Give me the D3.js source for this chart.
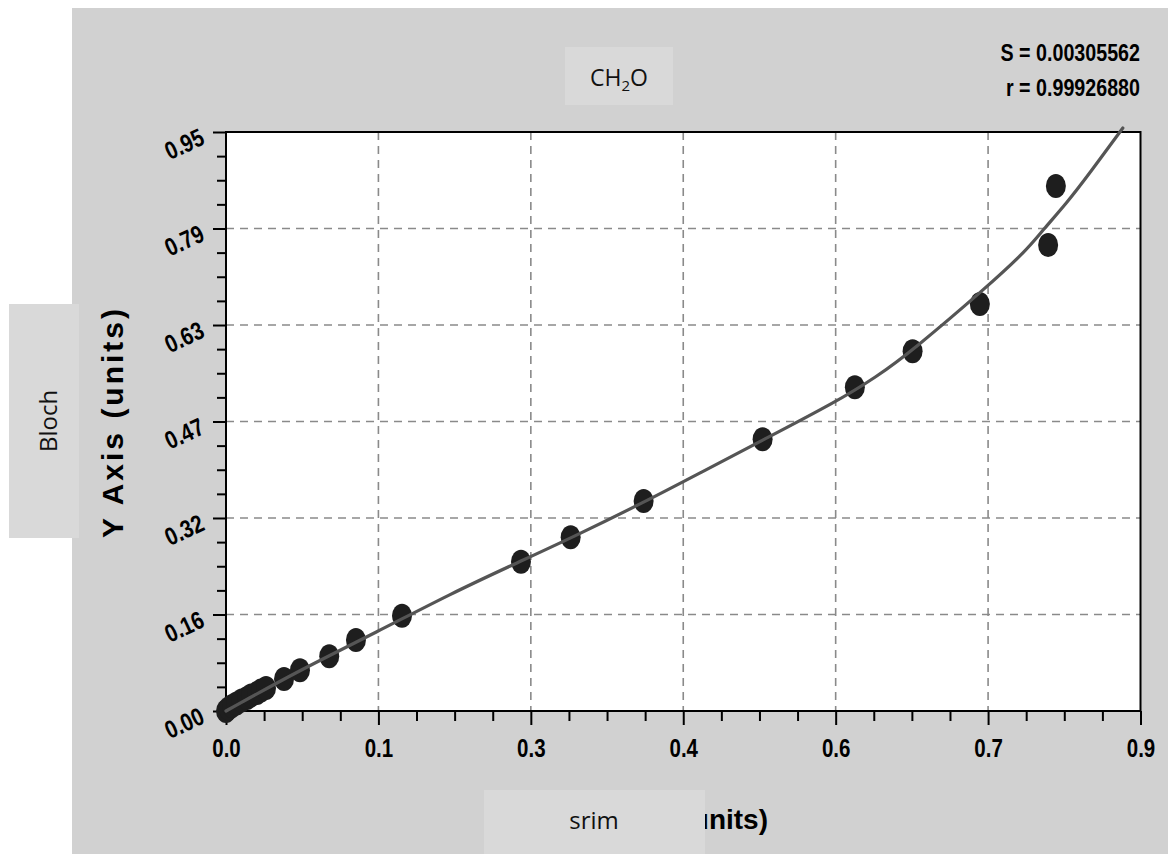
<!DOCTYPE html>
<html>
<head>
<meta charset="utf-8">
<script src="https://cdn.jsdelivr.net/npm/d3@7"></script>
<style>
  html, body { margin: 0; padding: 0; background: #fff; }
  .narrow { font-family: "Liberation Sans", Arial, sans-serif; font-weight: bold; }
</style>
</head>
<body>
<div id="chart"></div>
<script>
// ---- data ----
const xTicks = [0, 0.15, 0.3, 0.45, 0.6, 0.75, 0.9];
const xTickLabels = ["0.0", "0.1", "0.3", "0.4", "0.6", "0.7", "0.9"];
const yTicks = [0, 0.1583, 0.3167, 0.475, 0.6333, 0.7917, 0.95];
const yTickLabels = ["0.00", "0.16", "0.32", "0.47", "0.63", "0.79", "0.95"];

const pointX = [0, 0.0025, 0.0059, 0.0103, 0.0153, 0.0207, 0.0246, 0.0305, 0.0344, 0.0394,
  0.0571, 0.0728, 0.1016, 0.1279, 0.1732, 0.2903, 0.3392, 0.4110, 0.5281, 0.6189,
  0.6757, 0.7419, 0.8091, 0.8167];
const pointY = [0, 0.0041, 0.0082, 0.0123, 0.0172, 0.0213, 0.0254, 0.0295, 0.0336, 0.0377,
  0.0525, 0.0668, 0.0897, 0.1165, 0.1564, 0.2450, 0.2850, 0.3445, 0.4458, 0.5311,
  0.5902, 0.6678, 0.7646, 0.8614];

// fitted curve
const fitX = [0, 0.0728, 0.1486, 0.2204, 0.2903, 0.3395, 0.4119, 0.4664, 0.5284, 0.6002,
  0.6400, 0.6760, 0.7488, 0.7882, 0.8039, 0.8275, 0.8501, 0.8826];
const fitY = [0, 0.0673, 0.1296, 0.1920, 0.2461, 0.2838, 0.3429, 0.3905, 0.4446, 0.5070,
  0.5480, 0.5920, 0.6956, 0.7564, 0.7892, 0.8335, 0.8827, 0.9565];

const statLines = ["S = 0.00305562", "r = 0.99926880"];

const W = 1168, H = 854;
const plot = { left: 226, right: 1140.5, top: 132, bottom: 711 };
const squeeze = "scale(0.82,1)";

const svg = d3.select("#chart").append("svg")
  .attr("width", W).attr("height", H)
  .style("display", "block");

// gray page background
svg.append("rect").attr("x", 72).attr("y", 8).attr("width", W - 72).attr("height", H - 8)
  .attr("fill", "#d1d1d1");

const x = d3.scaleLinear().domain([0, 0.9]).range([plot.left, plot.right]);
const y = d3.scaleLinear().domain([0, 0.95]).range([plot.bottom, plot.top]);

// plot area
svg.append("rect")
  .attr("x", plot.left).attr("y", plot.top)
  .attr("width", plot.right - plot.left).attr("height", plot.bottom - plot.top)
  .attr("fill", "#fff");

// grid
const grid = svg.append("g").attr("stroke", "#8a8a8a").attr("stroke-width", 1.6)
  .attr("stroke-dasharray", "8,6");
grid.selectAll("line.vx").data(xTicks.slice(1, -1)).join("line")
  .attr("x1", d => x(d)).attr("x2", d => x(d))
  .attr("y1", plot.top).attr("y2", plot.bottom);
grid.selectAll("line.hy").data(yTicks.slice(1, -1)).join("line")
  .attr("y1", d => y(d)).attr("y2", d => y(d))
  .attr("x1", plot.left).attr("x2", plot.right);

// minor ticks (3 between each pair of majors)
const minor = (ticks) => d3.merge(d3.pairs(ticks).map(([a, b]) => [1, 2, 3].map(k => a + (b - a) * k / 4)));

const xAxis = d3.axisBottom(x).tickValues(xTicks).tickSize(14)
  .tickFormat((d, i) => xTickLabels[i]);
const gx = svg.append("g").attr("transform", `translate(0,${plot.bottom})`).call(xAxis);
gx.select(".domain").remove();
gx.selectAll(".tick line").attr("stroke", "#000").attr("stroke-width", 2);
gx.selectAll(".tick text").attr("class", "narrow").attr("font-size", 25)
  .attr("fill", "#000").attr("y", 28).attr("dy", "0.71em")
  .attr("transform", squeeze);

const gxm = svg.append("g").attr("transform", `translate(0,${plot.bottom})`)
  .call(d3.axisBottom(x).tickValues(minor(xTicks)).tickSize(10).tickFormat(""));
gxm.select(".domain").remove();
gxm.selectAll(".tick line").attr("stroke", "#000").attr("stroke-width", 2);

const yAxis = d3.axisLeft(y).tickValues(yTicks).tickSize(13)
  .tickFormat((d, i) => yTickLabels[i]);
const gy = svg.append("g").attr("transform", `translate(${plot.left},0)`).call(yAxis);
gy.select(".domain").remove();
gy.selectAll(".tick line").attr("stroke", "#000").attr("stroke-width", 2);
gy.selectAll(".tick text").attr("class", "narrow").attr("font-size", 25)
  .attr("fill", "#000").attr("text-anchor", "end")
  .attr("x", null).attr("dy", null)
  .attr("transform", `translate(-20,11) rotate(-25) ${squeeze}`);

const gym = svg.append("g").attr("transform", `translate(${plot.left},0)`)
  .call(d3.axisLeft(y).tickValues(minor(yTicks)).tickSize(9).tickFormat(""));
gym.select(".domain").remove();
gym.selectAll(".tick line").attr("stroke", "#000").attr("stroke-width", 2);

// frame
svg.append("rect")
  .attr("x", plot.left).attr("y", plot.top)
  .attr("width", plot.right - plot.left).attr("height", plot.bottom - plot.top)
  .attr("fill", "none").attr("stroke", "#000").attr("stroke-width", 2);

// points
const pts = pointX.map((v, i) => ({ x: v, y: pointY[i] }));
svg.append("g").selectAll("ellipse").data(pts).join("ellipse")
  .attr("cx", d => x(d.x)).attr("cy", d => y(d.y))
  .attr("rx", 10).attr("ry", 12)
  .attr("fill", "#1e1e1e");

// fitted curve
const fit = fitX.map((v, i) => ({ x: v, y: fitY[i] }));
svg.append("path").datum(fit)
  .attr("d", d3.line().x(d => x(d.x)).y(d => y(d.y)).curve(d3.curveBasis))
  .attr("fill", "none").attr("stroke", "#555").attr("stroke-width", 3.2)
  .attr("stroke-linecap", "round");

// statistics
svg.append("g").selectAll("text").data(statLines).join("text")
  .attr("class", "narrow").attr("font-size", 24).attr("fill", "#000")
  .attr("text-anchor", "end")
  .attr("transform", (d, i) => `translate(1140,${61 + i * 35}) ${squeeze}`)
  .text(d => d);

// axis titles
svg.append("text")
  .attr("transform", "translate(123,422) rotate(-90)")
  .attr("text-anchor", "middle")
  .attr("font-family", "'Liberation Sans', Arial, sans-serif")
  .attr("font-weight", "bold").attr("font-size", 30)
  .attr("letter-spacing", 3)
  .text("Y Axis (units)");

svg.append("text")
  .attr("class", "narrow")
  .attr("x", 768).attr("y", 829)
  .attr("text-anchor", "end")
  .attr("font-size", 28)
  .text("X Axis (units)");

// overlay label boxes
const boxFont = "'Open Sans', 'Noto Sans', sans-serif";

svg.append("rect").attr("x", 565).attr("y", 47).attr("width", 108).attr("height", 58)
  .attr("fill", "#d9d9d9");
const t = svg.append("text").attr("x", 619).attr("y", 86).attr("text-anchor", "middle")
  .attr("font-family", boxFont).attr("font-size", 23).attr("fill", "#111");
t.append("tspan").text("CH");
t.append("tspan").attr("font-size", 15).attr("dy", 5).text("2");
t.append("tspan").attr("dy", -5).text("O");

svg.append("rect").attr("x", 9).attr("y", 304).attr("width", 70).attr("height", 234)
  .attr("fill", "#d9d9d9");
svg.append("text").attr("transform", "translate(57,421) rotate(-90)")
  .attr("text-anchor", "middle")
  .attr("font-family", boxFont).attr("font-size", 24).attr("fill", "#111")
  .text("Bloch");

svg.append("rect").attr("x", 484).attr("y", 790).attr("width", 221).attr("height", 64)
  .attr("fill", "#d9d9d9");
svg.append("text").attr("x", 594).attr("y", 829).attr("text-anchor", "middle")
  .attr("font-family", boxFont).attr("font-size", 24).attr("fill", "#111")
  .text("srim");
</script>
</body>
</html>
